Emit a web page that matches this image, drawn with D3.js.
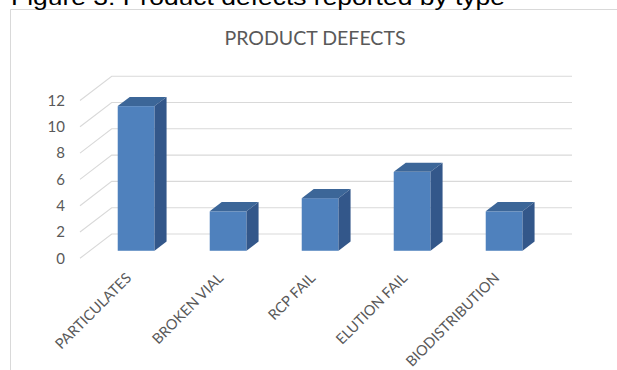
<!DOCTYPE html>
<html><head><meta charset="utf-8">
<script src="https://cdn.jsdelivr.net/npm/d3@7"></script>
<style>body{margin:0;background:#fff;overflow:hidden}svg{display:block}</style>
</head><body>
<svg id="c" width="617" height="370"></svg>
<script>
const caption = "Figure 3: Product defects reported by type";
const title = "PRODUCT DEFECTS";
const categories = ["PARTICULATES","BROKEN VIAL","RCP FAIL","ELUTION FAIL","BIODISTRIBUTION"];
const defects = [11, 3, 4, 6, 3];
const yTicks = [0, 2, 4, 6, 8, 10, 12];

const svg = d3.select("#c");
const lab = "Lato, 'Open Sans', sans-serif";

// frame
svg.append("path").attr("d","M10.5,370 V9.5 H617").attr("fill","none").attr("stroke","#d9d9d9").attr("stroke-width",1);

// caption (clipped at top, as in the reference)
svg.append("text").attr("x",11).attr("y",5).attr("font-family","'Liberation Sans', Arial, sans-serif")
  .attr("font-size",22).attr("fill","#000").attr("textLength",494).attr("lengthAdjust","spacingAndGlyphs").text(caption);

// title
svg.append("text").attr("x",315).attr("y",44.5).attr("text-anchor","middle").attr("font-family",lab)
  .attr("font-size",19).attr("fill","#595959").attr("textLength",181).attr("lengthAdjust","spacingAndGlyphs").text(title);

// 3D geometry
const depthX = 31.7, depthY = -24.3;
const x = d3.scaleBand().domain(categories).range([80.3, 540.3]).paddingInner(0.6).paddingOuter(0.3);
const y = d3.scaleLinear().domain([0, 12]).range([258.3, 100.5]);

const grid = svg.append("g");
yTicks.forEach(v => {
  const yf = y(v), yb = yf + depthY;
  grid.append("path").attr("d", `M80,${yf} L${80+depthX},${yb} H572`)
    .attr("fill","none").attr("stroke","#d9d9d9").attr("stroke-width",1.1);
});

// y labels
svg.append("g").selectAll("text").data(yTicks).join("text")
  .attr("x",65).attr("y",d=>y(d)).attr("dy","0.35em").attr("text-anchor","end")
  .attr("font-family",lab).attr("font-size",15).attr("fill","#595959").text(d=>d);

// bars
const f0 = 0.31, fd = 0.38;
const ox = depthX*f0, oy = depthY*f0, bx = depthX*fd, by = depthY*fd;
const bars = svg.append("g");
categories.forEach((c,i) => {
  const x0 = x(c) + ox, w = x.bandwidth();
  const yt = y(defects[i]) + oy, yb = y(0) + oy;
  bars.append("rect").attr("x",x0).attr("y",yt).attr("width",w).attr("height",yb-yt).attr("fill","#4f81bd");
  bars.append("path").attr("d",`M${x0},${yt} L${x0+w},${yt} L${x0+w+bx},${yt+by} L${x0+bx},${yt+by}Z`).attr("fill","#3c6698");
  bars.append("path").attr("d",`M${x0+w},${yt} L${x0+w+bx},${yt+by} L${x0+w+bx},${yb+by} L${x0+w},${yb}Z`).attr("fill","#33578a");
});

// category labels
svg.append("g").selectAll("text").data(categories).join("text")
  .attr("transform", d => `translate(${x(d)+x.bandwidth()/2+6},279) rotate(-45)`)
  .attr("text-anchor","end").attr("font-family",lab).attr("font-size",14.5).attr("fill","#595959").text(d=>d);
</script>
</body></html>
